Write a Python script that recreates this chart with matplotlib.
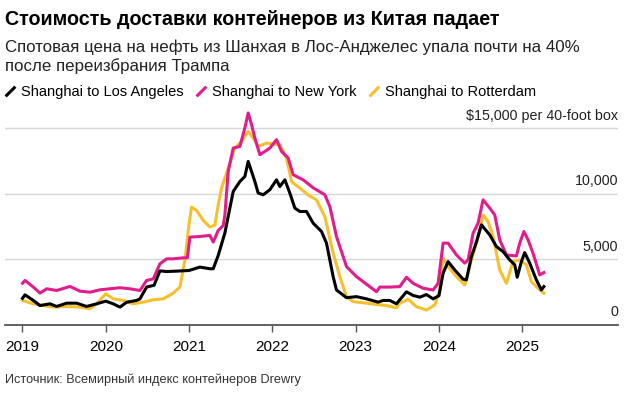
import matplotlib.pyplot as plt
from matplotlib.lines import Line2D

plt.rcParams['font.family'] = ['Liberation Sans', 'DejaVu Sans']

# Drewry World Container Index, $ per 40-foot box
la_t = [2019.00, 2019.03, 2019.13, 2019.21, 2019.33, 2019.41, 2019.53, 2019.65, 2019.77, 2019.89,
        2020.00, 2020.09, 2020.17, 2020.25, 2020.37, 2020.41, 2020.49, 2020.58, 2020.65, 2020.73,
        2020.85, 2021.00, 2021.13, 2021.25, 2021.29, 2021.35, 2021.43, 2021.53, 2021.61, 2021.67,
        2021.71, 2021.75, 2021.79, 2021.83, 2021.89, 2021.97, 2022.05, 2022.09, 2022.15, 2022.21,
        2022.27, 2022.33, 2022.41, 2022.49, 2022.59, 2022.65, 2022.73, 2022.77, 2022.89, 2023.01,
        2023.13, 2023.27, 2023.33, 2023.41, 2023.49, 2023.61, 2023.69, 2023.77, 2023.85, 2023.93,
        2024.00, 2024.05, 2024.11, 2024.19, 2024.29, 2024.33, 2024.39, 2024.45, 2024.51, 2024.61,
        2024.69, 2024.77, 2024.85, 2024.91, 2024.94, 2024.99, 2025.03, 2025.09, 2025.17, 2025.23,
        2025.26]
la_v = [2000, 2270, 1840, 1450, 1580, 1380, 1630, 1630, 1380, 1580,
        1785, 1580, 1330, 1700, 1840, 1960, 2860, 3000, 4100, 4050,
        4080, 4130, 4390, 4260, 4260, 5280, 7000, 10170, 10930, 11320,
        12470, 11700, 10930, 10050, 9920, 10300, 11060, 10550, 11060, 10050,
        8900, 8640, 8640, 7750, 7110, 6220, 3660, 2640, 2050, 2130,
        1960, 1710, 1840, 1840, 1580, 2500, 2220, 2090, 2290, 1960,
        2200, 3920, 4810, 4170, 3460, 3410, 5190, 6300, 7620, 6850,
        5960, 5570, 4940, 4560, 3610, 4810, 5500, 4690, 3410, 2640,
        2900]

ny_t = [2019.00, 2019.03, 2019.13, 2019.21, 2019.29, 2019.41, 2019.57, 2019.69, 2019.81, 2019.93,
        2020.05, 2020.17, 2020.29, 2020.41, 2020.49, 2020.57, 2020.65, 2020.73, 2020.81, 2020.93,
        2020.98, 2021.01, 2021.13, 2021.25, 2021.29, 2021.35, 2021.41, 2021.43, 2021.47, 2021.53,
        2021.61, 2021.67, 2021.71, 2021.75, 2021.79, 2021.85, 2021.91, 2021.97, 2022.05, 2022.11,
        2022.19, 2022.25, 2022.37, 2022.49, 2022.63, 2022.69, 2022.77, 2022.89, 2023.01, 2023.17,
        2023.25, 2023.29, 2023.41, 2023.53, 2023.61, 2023.69, 2023.81, 2023.93, 2023.99, 2024.05,
        2024.11, 2024.21, 2024.31, 2024.35, 2024.41, 2024.47, 2024.53, 2024.61, 2024.67, 2024.73,
        2024.81, 2024.93, 2024.97, 2025.02, 2025.07, 2025.13, 2025.21, 2025.26]
ny_v = [3160, 3370, 2860, 2400, 2730, 2600, 2910, 2550, 2470, 2650,
        2730, 2810, 2730, 2600, 3370, 3490, 4640, 5020, 5020, 5100,
        5100, 6680, 6730, 6810, 6300, 7190, 7570, 8380, 11700, 13490,
        13610, 15020, 16170, 15280, 14260, 12980, 13230, 13490, 14130, 13230,
        12730, 11450, 11060, 10450, 9920, 9020, 6720, 4430, 3660, 2890,
        2510, 2860, 2860, 2900, 3610, 3150, 2770, 2640, 3150, 6220,
        6220, 5320, 4690, 4940, 6980, 7750, 9530, 8900, 8380, 6470,
        5320, 5240, 6220, 7110, 6470, 5450, 3790, 3970]

rt_t = [2019.00, 2019.13, 2019.25, 2019.37, 2019.53, 2019.69, 2019.81, 2019.89, 2020.00, 2020.09,
        2020.21, 2020.33, 2020.45, 2020.57, 2020.69, 2020.81, 2020.89, 2020.95, 2021.00, 2021.03,
        2021.09, 2021.17, 2021.25, 2021.31, 2021.35, 2021.39, 2021.47, 2021.55, 2021.63, 2021.71,
        2021.77, 2021.83, 2021.93, 2022.09, 2022.17, 2022.23, 2022.33, 2022.43, 2022.53, 2022.63,
        2022.73, 2022.81, 2022.89, 2022.97, 2023.13, 2023.25, 2023.37, 2023.49, 2023.53, 2023.63,
        2023.73, 2023.85, 2023.95, 2024.01, 2024.05, 2024.11, 2024.21, 2024.31, 2024.39, 2024.47,
        2024.53, 2024.59, 2024.65, 2024.73, 2024.81, 2024.89, 2024.97, 2025.05, 2025.11, 2025.19,
        2025.26]
rt_v = [1840, 1580, 1450, 1330, 1380, 1330, 1200, 1580, 2350, 1960,
        1840, 1580, 1710, 1890, 1960, 2400, 2860, 4900, 7700, 8980,
        8720, 7960, 7450, 7600, 9150, 10430, 11960, 13490, 14000, 14760,
        14260, 13610, 13870, 13740, 12730, 10930, 10430, 9900, 9530, 8250,
        5450, 3660, 2130, 1750, 1630, 1530, 1450, 1280, 1620, 1930,
        1360, 1110, 1490, 2640, 5070, 4430, 3660, 3020, 4940, 6720,
        8380, 7870, 6720, 4170, 3150, 4810, 4940, 4560, 3280, 2770,
        2390]

years = [2019, 2020, 2021, 2022, 2023, 2024, 2025]
y_ticks = [0, 5000, 10000, 15000]
y_labels = ['0', '5,000', '10,000', '$15,000 per 40-foot box']

c_la, c_ny, c_rt = '#000000', '#e31c8c', '#f4c12c'

fig = plt.figure(figsize=(6.3, 3.97), dpi=100)
ax = fig.add_axes([5 / 630, (397 - 324.5) / 397, 613 / 630, 219.5 / 397])

for v in y_ticks[1:]:
    ax.axhline(v, color='#d6d6d6', lw=1, zorder=0)

ax.plot(rt_t, rt_v, color=c_rt, lw=2.2, solid_joinstyle='round')
ax.plot(ny_t, ny_v, color=c_ny, lw=2.2, solid_joinstyle='round')
ax.plot(la_t, la_v, color=c_la, lw=2.2, solid_joinstyle='round')

ax.set_xlim(2018.79, 2026.15)
ax.set_ylim(0, 15000 * 219.5 / 196.2)

for s in ['top', 'right', 'left']:
    ax.spines[s].set_visible(False)
ax.spines['bottom'].set_color('#555555')
ax.spines['bottom'].set_linewidth(1.3)
ax.set_yticks([])
ax.set_xticks(years)
ax.set_xticklabels([str(y) for y in years], fontsize=11)
ax.tick_params(axis='x', length=5, width=1, color='#555555', pad=6)

for v, lab in zip(y_ticks, y_labels):
    ax.annotate(lab, xy=(1.0, v), xycoords=('axes fraction', 'data'),
                xytext=(0, 6), textcoords='offset points',
                ha='right', va='baseline', fontsize=10.3, color='#222222')

fig.text(0.008, 0.952, 'Стоимость доставки контейнеров из Китая падает',
         fontsize=14.2, fontweight='bold', ha='left', va='center')
fig.text(0.008, 0.882, 'Спотовая цена на нефть из Шанхая в Лос-Анджелес упала почти на 40%',
         fontsize=12.2, ha='left', va='center', color='#222222')
fig.text(0.008, 0.833, 'после переизбрания Трампа',
         fontsize=12.2, ha='left', va='center', color='#222222')

slash = [(-1, -1), (1, 1)]
handles = [Line2D([], [], color=c, lw=0, marker=slash, markersize=7,
                  markeredgewidth=2.2, markeredgecolor=c)
           for c in (c_la, c_ny, c_rt)]
fig.legend(handles, ['Shanghai to Los Angeles', 'Shanghai to New York', 'Shanghai to Rotterdam'],
           loc='center left', bbox_to_anchor=(-0.012, 0.768), ncol=3, frameon=False,
           fontsize=10.5, handlelength=0.6, handletextpad=0.45, columnspacing=0.9)

fig.text(0.008, 0.043, 'Источник: Всемирный индекс контейнеров Drewry',
         fontsize=9.2, ha='left', va='center', color='#333333')

fig.savefig('out.png', dpi=100)
